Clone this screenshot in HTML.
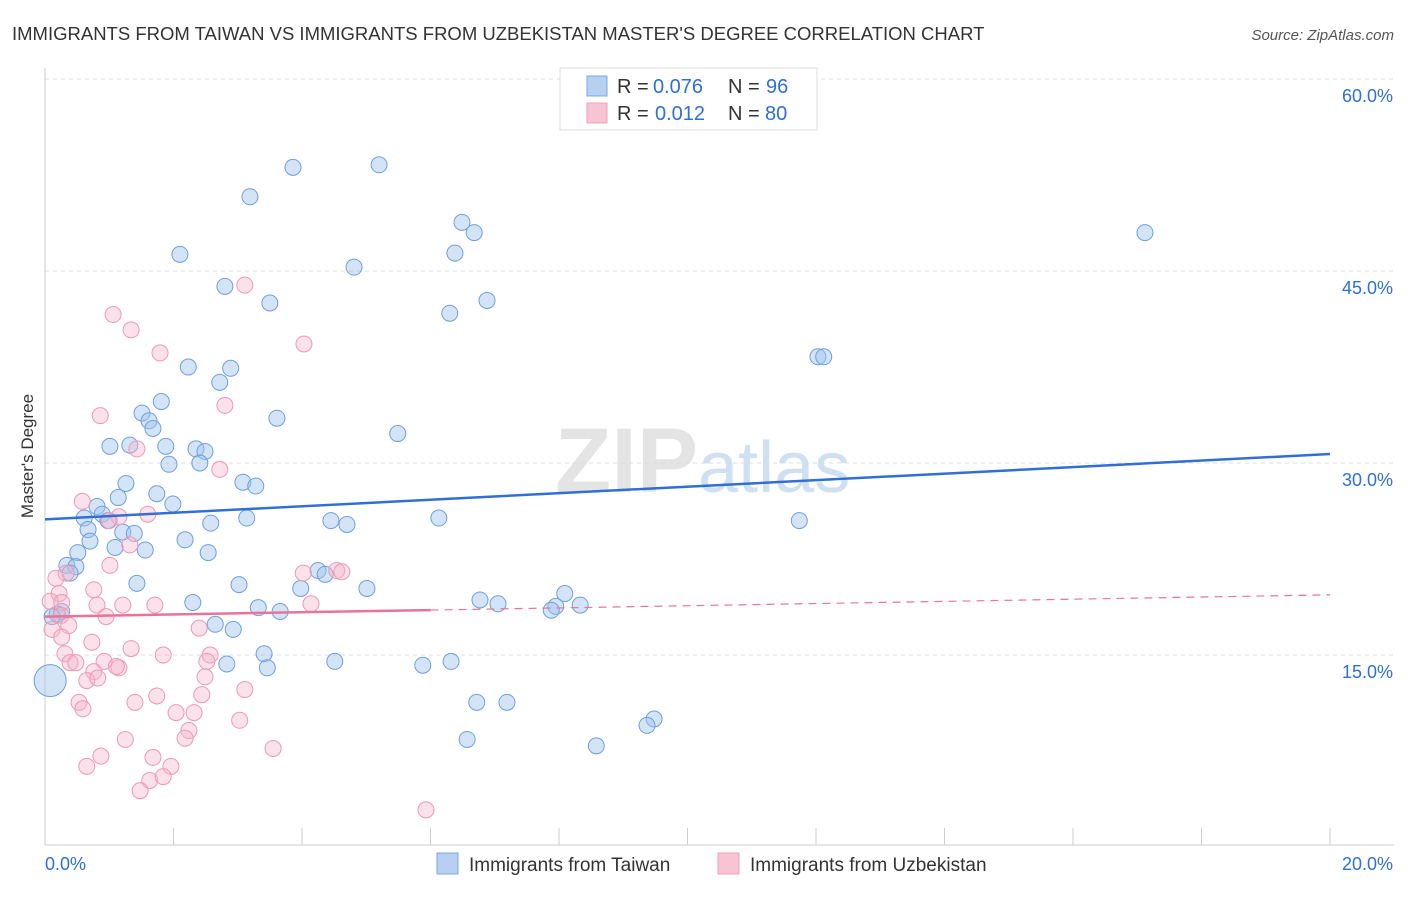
<!DOCTYPE html>
<html><head><meta charset="utf-8"><style>
body{margin:0;background:#fff;font-family:"Liberation Sans",sans-serif;}
svg text{font-family:"Liberation Sans",sans-serif;}
</style></head><body>
<svg id="chart" width="1406" height="892" xmlns="http://www.w3.org/2000/svg">
<text x="12" y="40" font-size="18.5" fill="#333">IMMIGRANTS FROM TAIWAN VS IMMIGRANTS FROM UZBEKISTAN MASTER'S DEGREE CORRELATION CHART</text>
<text x="1394" y="40" font-size="15" fill="#555" text-anchor="end" font-style="italic">Source: ZipAtlas.com</text>
<text x="555" y="492" font-size="92" fill="#e4e4e4" font-family="Liberation Serif" font-weight="bold">ZIP<tspan fill="#cfe0f3" font-family="Liberation Sans" font-weight="normal" font-size="72">atlas</tspan></text>
<text transform="translate(33,456) rotate(-90)" font-size="17" fill="#333" text-anchor="middle">Master's Degree</text>
<g id="grid"></g><g id="axes"></g><g id="pts"></g><g id="trends"></g>
<g>
<rect x="560" y="68" width="257" height="62" fill="#fff" stroke="#ddd"/>
<rect x="587" y="76" width="20" height="20" fill="#b7d0f2" stroke="#7aa8e0"/>
<rect x="587" y="103" width="20" height="20" fill="#f8c4d4" stroke="#f0a0b8"/>
<text x="617" y="93" font-size="20" fill="#333">R =</text>
<text x="653" y="93" font-size="20" fill="#2f6fd6">0.076</text>
<text x="728" y="93" font-size="20" fill="#333">N =</text>
<text x="766" y="93" font-size="20" fill="#2f6fd6">96</text>
<text x="617" y="120" font-size="20" fill="#333">R =</text>
<text x="655" y="120" font-size="20" fill="#2f6fd6">0.012</text>
<text x="728" y="120" font-size="20" fill="#333">N =</text>
<text x="765" y="120" font-size="20" fill="#2f6fd6">80</text>
</g>
<g>
<rect x="437" y="853" width="21" height="21" fill="#b7d0f2" stroke="#7aa8e0"/>
<text x="469" y="871" font-size="19" fill="#333">Immigrants from Taiwan</text>
<rect x="718" y="853" width="21" height="21" fill="#f8c4d4" stroke="#f0a0b8"/>
<text x="750" y="871" font-size="19" fill="#333">Immigrants from Uzbekistan</text>
</g>
</svg>
<script>
const yTicks=[15,30,45,60];
const xTickLabels=["0.0%","20.0%"];
const taiwanX=[3.86,5.20,3.19,6.49,6.68,17.12,2.10,6.38,4.81,2.80,3.50,6.88,6.30,12.03,12.12,2.23,2.89,2.72,1.81,3.61,1.51,1.62,1.68,5.49,1.01,1.32,1.88,2.35,2.49,1.93,2.41,3.08,3.28,1.26,1.74,1.14,1.99,0.81,0.89,0.61,0.98,2.58,3.14,4.45,4.70,6.13,11.74,0.67,1.21,1.39,0.70,2.18,1.09,1.56,0.51,2.54,0.34,0.48,4.25,4.36,0.39,1.43,3.02,5.01,3.98,8.09,6.77,7.05,8.33,7.95,7.88,2.30,3.32,3.66,0.26,0.19,0.11,2.65,2.93,3.41,2.83,3.46,4.51,5.88,6.32,6.72,7.19,9.48,9.37,6.57,8.58,0.08];
const taiwanY=[53.1,53.3,50.8,48.8,48.0,48.0,46.3,46.4,45.3,43.8,42.5,42.7,41.7,38.3,38.3,37.5,37.4,36.3,34.8,33.5,33.9,33.3,32.7,32.3,31.3,31.4,31.3,31.1,30.9,29.9,30.0,28.5,28.2,28.4,27.6,27.3,26.8,26.6,26.0,25.7,25.5,25.3,25.7,25.5,25.2,25.7,25.5,24.8,24.6,24.5,23.9,24.0,23.4,23.2,23.0,23.0,22.0,21.9,21.6,21.3,21.4,20.6,20.5,20.2,20.2,19.8,19.3,19.0,18.9,18.8,18.5,19.1,18.7,18.4,18.4,18.2,18.0,17.4,17.0,15.1,14.3,14.0,14.5,14.2,14.5,11.3,11.3,10.0,9.5,8.4,7.9,13.0];
const uzbekX=[3.11,1.06,1.34,1.79,4.03,2.80,0.86,1.43,2.72,0.58,1.60,1.15,1.00,1.32,0.17,1.01,0.33,0.22,0.76,0.08,0.26,0.81,1.21,1.71,4.14,4.02,4.54,4.62,0.25,0.95,0.37,0.11,0.26,0.73,2.40,1.34,0.31,1.84,2.57,0.39,0.48,0.92,2.52,1.15,1.11,0.76,2.49,0.65,0.82,2.44,1.74,1.40,3.11,0.53,0.59,2.04,2.32,3.03,2.24,2.18,1.25,1.68,0.87,3.55,0.65,1.96,1.63,1.84,1.48,5.93];
const uzbekY=[43.9,41.6,40.4,38.6,39.3,34.5,33.7,31.1,29.5,27.0,26.0,25.8,25.5,23.6,21.0,22.0,21.4,19.8,20.1,19.2,19.1,18.9,18.9,18.9,19.0,21.4,21.6,21.5,18.1,18.0,17.3,17.0,16.4,16.0,17.1,15.5,15.1,15.0,15.0,14.4,14.4,14.5,14.5,14.0,14.1,13.7,13.3,13.0,13.2,11.9,11.8,11.3,12.3,11.3,10.8,10.5,10.5,9.9,9.1,8.5,8.4,7.0,7.1,7.7,6.3,6.3,5.2,5.5,4.4,2.9];
const taiwanTrend=[25.6,30.7];
const uzbekTrend=[18.0,19.7];
const uzbekSolidEnd=6.0;
const NS="http://www.w3.org/2000/svg";
const sx=v=>45+v/20*1285, sy=v=>847-v/15*192;
function mk(tag,attrs,parent){const e=document.createElementNS(NS,tag);for(const k in attrs)e.setAttribute(k,attrs[k]);document.getElementById(parent).appendChild(e);return e;}
yTicks.forEach(t=>{
 const l=mk('line',{x1:45,x2:1394,y1:sy(t),y2:sy(t),stroke:'#ddd','stroke-dasharray':'4,4'},'grid');
 
 
 const tx=mk('text',{x:1393,y:sy(t)+23,'font-size':18,fill:'#2f6fd6','text-anchor':'end'},'grid');
 tx.textContent=t.toFixed(1)+'%';
 
 
});
const ax=mk('line',{x1:45,x2:45,y1:68,y2:845,stroke:'#ccc'},'axes');


const bx=mk('line',{x1:45,x2:1394,y1:845,y2:845,stroke:'#ccc'},'axes');


for(let i=0;i<=10;i++){const x=sx(i*2);const t=mk('line',{x1:x,x2:x,y1:828,y2:845,stroke:'#ccc'},'axes');
 
 }
const xl0=mk('text',{x:45,y:870,'font-size':18,fill:'#2f6fd6'},'axes');xl0.textContent=xTickLabels[0];


const xl1=mk('text',{x:1393,y:870,'font-size':18,fill:'#2f6fd6','text-anchor':'end'},'axes');xl1.textContent=xTickLabels[1];


function dots(X,Y,fill,stroke,name){X.forEach((x,i)=>{const big=(name==='taiwan-point'&&i===X.length-1);
 const c=mk('circle',{cx:sx(x),cy:sy(Y[i]),r:big?16:8,fill:fill,stroke:stroke,'stroke-width':1},'pts');
 
 });}
dots(taiwanX,taiwanY,'rgba(160,195,238,0.45)','#6f9fdc','taiwan-point');
dots(uzbekX,uzbekY,'rgba(246,180,202,0.4)','#ee98b4','uzbekistan-point');
const bt=mk('line',{x1:sx(0),y1:sy(taiwanTrend[0]),x2:sx(20),y2:sy(taiwanTrend[1]),stroke:'#2f6fd6','stroke-width':2.5},'trends');


const pm=uzbekTrend[0]+(uzbekTrend[1]-uzbekTrend[0])*uzbekSolidEnd/20;
const ps=mk('line',{x1:sx(0),y1:sy(uzbekTrend[0]),x2:sx(uzbekSolidEnd),y2:sy(pm),stroke:'#e8749a','stroke-width':2.5},'trends');


const pd=mk('line',{x1:sx(uzbekSolidEnd),y1:sy(pm),x2:sx(20),y2:sy(uzbekTrend[1]),stroke:'#e8749a','stroke-width':1.2,'stroke-dasharray':'8,6'},'trends');


</script>
</body></html>
